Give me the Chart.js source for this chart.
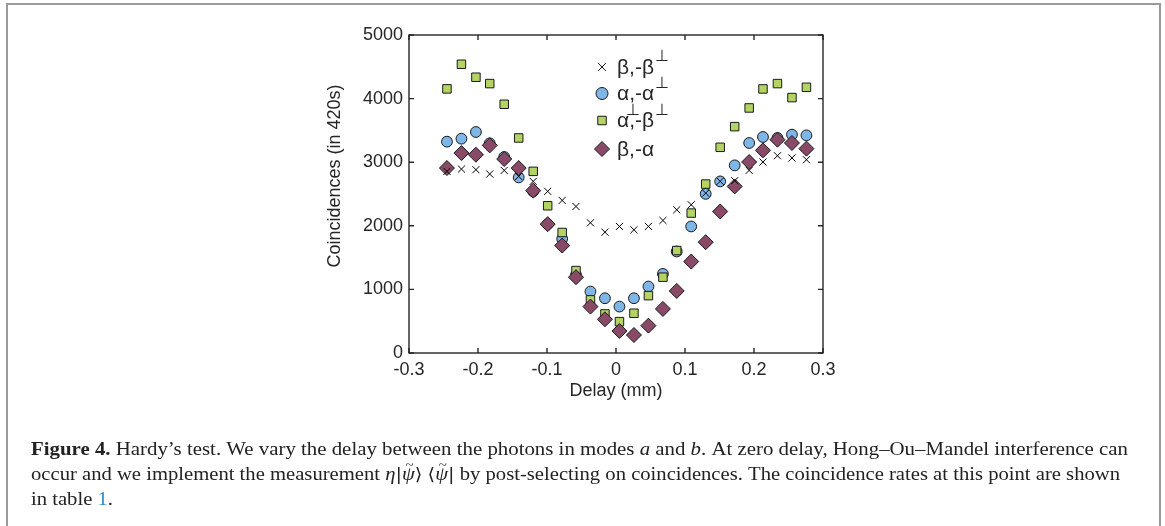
<!DOCTYPE html>
<html>
<head>
<meta charset="utf-8">
<script src="https://cdn.jsdelivr.net/npm/chart.js@4.4.0/dist/chart.umd.min.js"></script>
<style>
  body { margin: 0; background: #fff; }
  #wrap { position: relative; width: 1165px; height: 526px; }
</style>
</head>
<body>
<div id="wrap"><canvas id="chartCanvas" width="1165" height="526"></canvas></div>
<script>
// Delay positions (mm)
const delay = [-0.245, -0.224, -0.203, -0.183, -0.162, -0.141, -0.120, -0.099, -0.078, -0.058,
               -0.037, -0.016, 0.005, 0.026, 0.047, 0.068, 0.088, 0.109, 0.130, 0.151,
               0.172, 0.193, 0.213, 0.234, 0.255, 0.276];

// Coincidences (in 420s), one array per measurement setting
const betaBetaPerp = [2856, 2892, 2882, 2814, 2871, 2777, 2698, 2541, 2399, 2304,
                      2047, 1900, 1990, 1937, 1990, 2084, 2252, 2331, 2514, 2700,
                      2709, 2871, 3003, 3102, 3066, 3039];
const alphaAlphaPerp = [3323, 3370, 3475, 3297, 3082, 2761, 2541, 2026, 1795, 1228,
                        966, 861, 730, 861, 1045, 1244, 1596, 1990, 2502, 2698,
                        2950, 3302, 3396, 3381, 3433, 3422];
const alphaPerpBetaPerp = [4153, 4540, 4336, 4236, 3911, 3381, 2856, 2315, 1895, 1296,
                           835, 614, 493, 625, 902, 1192, 1611, 2200, 2656, 3234,
                           3559, 3853, 4152, 4236, 4016, 4178];
const betaAlpha = [2908, 3144, 3118, 3265, 3050, 2908, 2553, 2026, 1690, 1192,
                   730, 530, 346, 283, 430, 693, 976, 1438, 1743, 2225,
                   2619, 3003, 3186, 3354, 3302, 3213];

const xTicks = [-0.3, -0.2, -0.1, 0, 0.1, 0.2, 0.3];
const yTicks = [0, 1000, 2000, 3000, 4000, 5000];

const AXIS_COLOR = '#262626';
const SANS = '"Liberation Sans", Arial, sans-serif';
const SERIF = '"Liberation Serif", "Times New Roman", serif';
const MATH = '"DejaVu Serif", "Liberation Serif", serif';

function toPoints(ys) {
    return ys.map((y, i) => ({ x: delay[i], y: y }));
}

// legend entries: text parts, sup = superscript
const legendItems = [
    { style: 'crossRot', r: 5.5, fill: '#000', y: 67, parts: [['β,-β'], ['⊥', 'sup']] },
    { style: 'circle', r: 6, fill: '#7eb6e8', y: 93.5, parts: [['α,-α'], ['⊥', 'sup']] },
    { style: 'rect', r: 6, fill: '#b3d362', y: 120.5, parts: [['α'], ['⊥', 'supover'], [',-β'], ['⊥', 'sup']] },
    { style: 'rectRot', r: 7.5, fill: '#894a68', y: 149, parts: [['β,-α']] }
];

function drawParts(ctx, parts, x, y, size) {
    let cx = x;
    parts.forEach(p => {
        const [t, kind] = p;
        if (kind === 'sup' || kind === 'supover') {
            ctx.font = '16px ' + SANS;
            const sx = kind === 'supover' ? cx - 3 : cx + 1;
            ctx.fillText(t, sx, y - 11);
            if (kind === 'sup') cx += ctx.measureText(t).width;
        } else {
            ctx.font = size + 'px ' + SANS;
            ctx.fillText(t, cx, y);
            cx += ctx.measureText(t).width;
        }
    });
}

// caption lines, each a list of [text, style]
const captionLines = [
    { y: 455, right: 1128, parts: [['Figure 4.', 'bold'], [' Hardy’s test. We vary the delay between the photons in modes ', ''], ['a', 'italic'], [' and ', ''], ['b', 'italic'], ['. At zero delay, Hong–Ou–Mandel interference can', '']] },
    { y: 480, right: 1120, parts: [['occur and we implement the measurement ', ''], ['η', 'italic'], ['|', 'math'], ['ψ', 'tilde'], ['⟩', 'math'], [' ', ''], ['⟨', 'math'], ['ψ', 'tilde'], ['|', 'math'], [' by post-selecting on coincidences. The coincidence rates at this point are shown', '']] },
    { y: 505, right: null, parts: [['in table ', ''], ['1', 'link'], ['.', '']] }
];

function captionFont(kind) {
    if (kind === 'bold') return 'bold 18px ' + SERIF;
    if (kind === 'italic' || kind === 'tilde') return 'italic 18px ' + SERIF;
    if (kind === 'math') return '17px ' + MATH;
    return '18px ' + SERIF;
}

const figurePlugin = {
    id: 'figure',
    beforeDraw(chart) {
        const ctx = chart.ctx;
        ctx.save();
        ctx.fillStyle = '#fff';
        ctx.fillRect(0, 0, chart.width, chart.height);
        ctx.restore();
    },
    afterDraw(chart) {
        const ctx = chart.ctx;
        const a = chart.chartArea;
        const xs = chart.scales.x, ys = chart.scales.y;
        ctx.save();

        // axes box with inward ticks
        ctx.strokeStyle = AXIS_COLOR;
        ctx.lineWidth = 1.4;
        ctx.strokeRect(a.left, a.top, a.right - a.left, a.bottom - a.top);
        ctx.beginPath();
        xTicks.forEach(v => {
            const px = xs.getPixelForValue(v);
            ctx.moveTo(px, a.bottom); ctx.lineTo(px, a.bottom - 5);
            ctx.moveTo(px, a.top); ctx.lineTo(px, a.top + 5);
        });
        yTicks.forEach(v => {
            const py = ys.getPixelForValue(v);
            ctx.moveTo(a.left, py); ctx.lineTo(a.left + 5, py);
            ctx.moveTo(a.right, py); ctx.lineTo(a.right - 5, py);
        });
        ctx.stroke();

        // axis titles
        ctx.fillStyle = AXIS_COLOR;
        ctx.font = '18px ' + SANS;
        ctx.textAlign = 'center';
        ctx.textBaseline = 'middle';
        ctx.fillText('Delay (mm)', (a.left + a.right) / 2, 391);
        ctx.save();
        ctx.translate(335, 176);
        ctx.rotate(-Math.PI / 2);
        ctx.fillText('Coincidences (in 420s)', 0, 0);
        ctx.restore();

        // legend
        legendItems.forEach(it => {
            ctx.fillStyle = it.fill;
            ctx.strokeStyle = '#1a1a1a';
            ctx.lineWidth = 1;
            Chart.helpers.drawPoint(ctx, { pointStyle: it.style, radius: it.r, rotation: 0, borderWidth: 1 }, 602, it.y);
            ctx.fillStyle = AXIS_COLOR;
            ctx.textAlign = 'left';
            ctx.textBaseline = 'middle';
            drawParts(ctx, it.parts, 617, it.y + 1, 21);
        });

        // caption
        ctx.textAlign = 'left';
        ctx.textBaseline = 'alphabetic';
        let scale = 1;
        captionLines.forEach(line => {
            let w = 0;
            line.parts.forEach(p => { ctx.font = captionFont(p[1]); w += ctx.measureText(p[0]).width; });
            if (line.right) scale = (line.right - 31) / w;
            ctx.save();
            ctx.translate(31, line.y);
            ctx.scale(scale, 1);
            let cx = 0;
            line.parts.forEach(p => {
                ctx.font = captionFont(p[1]);
                ctx.fillStyle = p[1] === 'link' ? '#2a8fc9' : '#222';
                ctx.fillText(p[0], cx, 0);
                const tw = ctx.measureText(p[0]).width;
                if (p[1] === 'tilde') {
                    ctx.font = '13px ' + SERIF;
                    ctx.textAlign = 'center';
                    ctx.fillText('~', cx + tw / 2 + 1, -11);
                    ctx.textAlign = 'left';
                }
                cx += tw;
            });
            ctx.restore();
        });

        // figure frame
        ctx.strokeStyle = '#9a9a9a';
        ctx.lineWidth = 2;
        ctx.strokeRect(7, 4, 1153, 560);
        ctx.restore();
    }
};

const pointBorder = '#1a1a1a';

new Chart(document.getElementById('chartCanvas').getContext('2d'), {
    type: 'scatter',
    data: {
        datasets: [
            { label: 'β,-β⊥', data: toPoints(betaBetaPerp), pointStyle: 'crossRot', pointRadius: 5,
              borderColor: '#000', backgroundColor: '#000', borderWidth: 1 },
            { label: 'β,-α', data: toPoints(betaAlpha), pointStyle: 'rectRot', pointRadius: 7.5,
              borderColor: pointBorder, backgroundColor: '#894a68', borderWidth: 1 },
            { label: 'α⊥,-β⊥', data: toPoints(alphaPerpBetaPerp), pointStyle: 'rect', pointRadius: 6,
              borderColor: pointBorder, backgroundColor: '#b3d362', borderWidth: 1 },
            { label: 'α,-α⊥', data: toPoints(alphaAlphaPerp), pointStyle: 'circle', pointRadius: 5.4,
              borderColor: pointBorder, backgroundColor: '#7eb6e8', borderWidth: 1 }
        ]
    },
    options: {
        responsive: false,
        animation: false,
        layout: { padding: { top: 35, right: 342, left: 0, bottom: 0 } },
        plugins: { legend: { display: false }, tooltip: { enabled: false } },
        scales: {
            x: {
                type: 'linear', min: -0.3, max: 0.3,
                afterFit: s => { s.height = 173; },
                afterBuildTicks: s => { s.ticks = xTicks.map(v => ({ value: v })); },
                ticks: { color: AXIS_COLOR, font: { family: SANS, size: 18 }, padding: 6, maxRotation: 0,
                         callback: v => String(Math.round(v * 10) / 10) },
                grid: { display: false, drawTicks: false },
                border: { display: false }
            },
            y: {
                type: 'linear', min: 0, max: 5000,
                afterFit: s => { s.width = 409; },
                afterBuildTicks: s => { s.ticks = yTicks.map(v => ({ value: v })); },
                ticks: { color: AXIS_COLOR, font: { family: SANS, size: 18 }, padding: 6,
                         callback: v => String(v) },
                grid: { display: false, drawTicks: false },
                border: { display: false }
            }
        }
    },
    plugins: [figurePlugin]
});
</script>
</body>
</html>
